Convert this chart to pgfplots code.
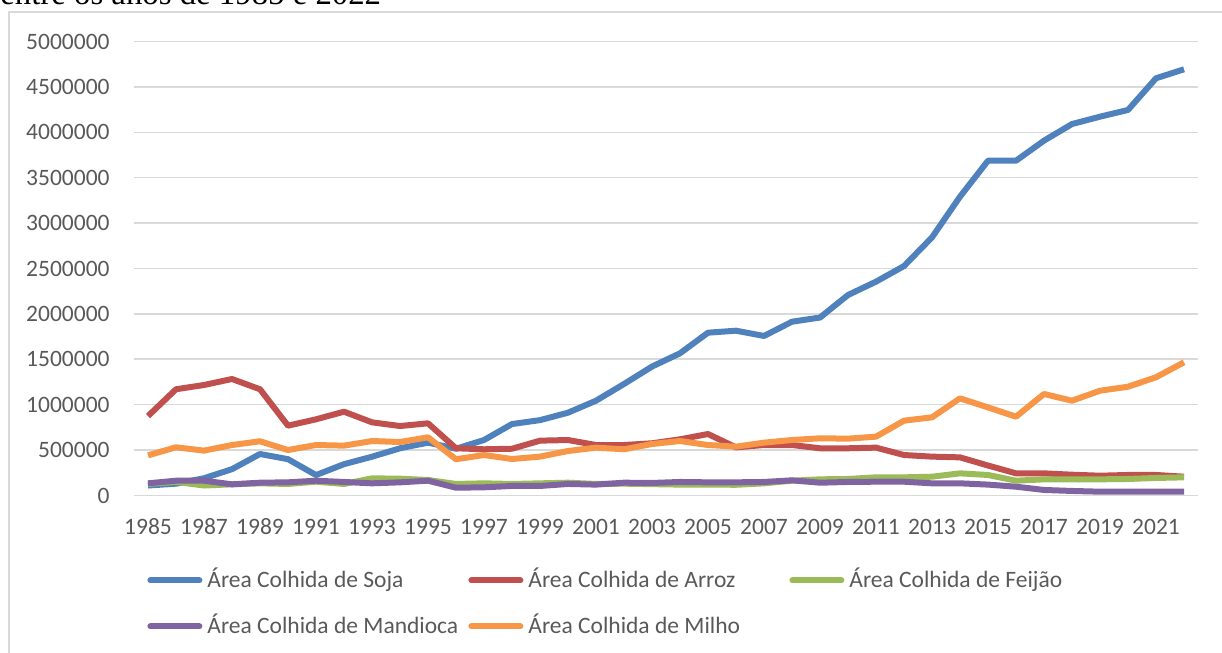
\documentclass[border=0pt]{standalone}
\usepackage{fontspec}
\setmainfont{Carlito}
\newfontfamily\timesfont{Liberation Serif}
\usepackage{pgfplots}
\pgfplotsset{compat=1.18}
\usepackage{pgfplotstable}
\definecolor{soja}{HTML}{4F81BD}
\definecolor{arroz}{HTML}{C0504D}
\definecolor{feijao}{HTML}{9BBB59}
\definecolor{mandioca}{HTML}{8064A2}
\definecolor{milho}{HTML}{F79646}
\definecolor{gridc}{HTML}{D9D9D9}
\definecolor{txt}{HTML}{595959}
\pgfplotstableread{
Ano Soja Arroz Feijao Mandioca Milho
1985 110000 875000 127000 134000 442000
1986 130000 1170000 150000 163000 531000
1987 190000 1217000 110000 163000 494000
1988 290000 1283000 123000 123000 556000
1989 457000 1170000 134000 141000 597000
1990 400000 769000 127000 145000 501000
1991 225000 839000 152000 163000 556000
1992 345000 923000 127000 149000 549000
1993 427000 806000 189000 134000 600000
1994 520000 765000 185000 145000 589000
1995 582000 795000 171000 163000 641000
1996 515000 520000 127000 86000 399000
1997 611000 509000 134000 90000 446000
1998 787000 515000 127000 105000 402000
1999 830000 604000 134000 105000 428000
2000 912000 611000 141000 127000 490000
2001 1044000 556000 127000 120000 527000
2002 1228000 556000 130000 141000 509000
2003 1420000 575000 125000 138000 567000
2004 1566000 619000 120000 149000 600000
2005 1793000 677000 120000 145000 556000
2006 1815000 530000 118000 145000 538000
2007 1757000 556000 134000 149000 582000
2008 1914000 556000 163000 167000 611000
2009 1960000 520000 178000 141000 630000
2010 2208000 520000 182000 149000 626000
2011 2355000 527000 200000 152000 648000
2012 2527000 446000 200000 152000 824000
2013 2843000 428000 207000 134000 861000
2014 3291000 420000 244000 134000 1070000
2015 3687000 330000 226000 120000 970000
2016 3687000 244000 163000 97000 868000
2017 3908000 244000 178000 61000 1118000
2018 4091000 229000 178000 50000 1044000
2019 4172000 218000 178000 42000 1154000
2020 4246000 226000 182000 42000 1198000
2021 4595000 226000 193000 42000 1302000
2022 4694000 207000 200000 42000 1467000
}\datatable
\begin{document}
\begin{tikzpicture}
\begin{axis}[
  at={(0,0)}, anchor=south west,
  scale only axis, width=532pt, height=227pt,
  xmin=1984.5, xmax=2022.5, ymin=0, ymax=5000000,
  axis line style={draw=none},
  major tick length=0pt,
  scaled y ticks=false, scaled x ticks=false,
  xtick={1985,1987,...,2021},
  xticklabels={1985,1987,1989,1991,1993,1995,1997,1999,2001,2003,2005,2007,2009,2011,2013,2015,2017,2019,2021},
  ytick={0,500000,1000000,1500000,2000000,2500000,3000000,3500000,4000000,4500000,5000000},
  yticklabels={0,500000,1000000,1500000,2000000,2500000,3000000,3500000,4000000,4500000,5000000},
  ymajorgrids, grid style={gridc, line width=0.8pt},
  tick label style={font=\fontsize{11.75}{14}\selectfont, text=txt, inner sep=0pt},
  xticklabel style={anchor=north},
  yticklabel style={anchor=east},
  xticklabel shift=11.5pt,
  yticklabel shift=12pt,
  every axis plot/.append style={line width=3pt, line join=round, no markers},
  legend columns=3,
  legend image code/.code={\path (0pt,0pt) (26.5pt,0pt); \draw[#1,line cap=round] (1.5pt,0pt) -- (26pt,0pt);},
  legend style={at={(0,0)}, anchor=north west, xshift=5pt, yshift=-36.75pt,
    draw=none, fill=none, inner sep=0pt, row sep=12pt, column sep=0pt,
    font=\fontsize{11.75}{14}\selectfont, text=txt,
    nodes={inner xsep=2pt, inner ysep=0pt, text height=9pt, text depth=2pt}},
  legend cell align=left,
]
\addplot[soja] table[x=Ano, y=Soja] {\datatable};
\addlegendentry{\makebox[127pt][l]{Área Colhida de Soja}}
\addplot[arroz] table[x=Ano, y=Arroz] {\datatable};
\addlegendentry{\makebox[127pt][l]{Área Colhida de Arroz}}
\addplot[feijao] table[x=Ano, y=Feijao] {\datatable};
\addlegendentry{\makebox[127pt][l]{Área Colhida de Feijão}}
\addplot[mandioca] table[x=Ano, y=Mandioca] {\datatable};
\addlegendentry{\makebox[127pt][l]{Área Colhida de Mandioca}}
\addplot[milho] table[x=Ano, y=Milho] {\datatable};
\addlegendentry{\makebox[127pt][l]{Área Colhida de Milho}}
\end{axis}
\draw[gridc, line width=0.6pt] (-62.5pt,-85pt) -- (-62.5pt,241.75pt) -- (550pt,241.75pt);
\node[anchor=base west, inner sep=0pt, font=\timesfont\fontsize{16.4}{18}\selectfont] at (-67pt,245.25pt) {entre os anos de 1985 e 2022};
\pgfresetboundingbox
\useasboundingbox (-67pt,-78.75pt) rectangle (544pt,247.75pt);
\end{tikzpicture}
\end{document}
